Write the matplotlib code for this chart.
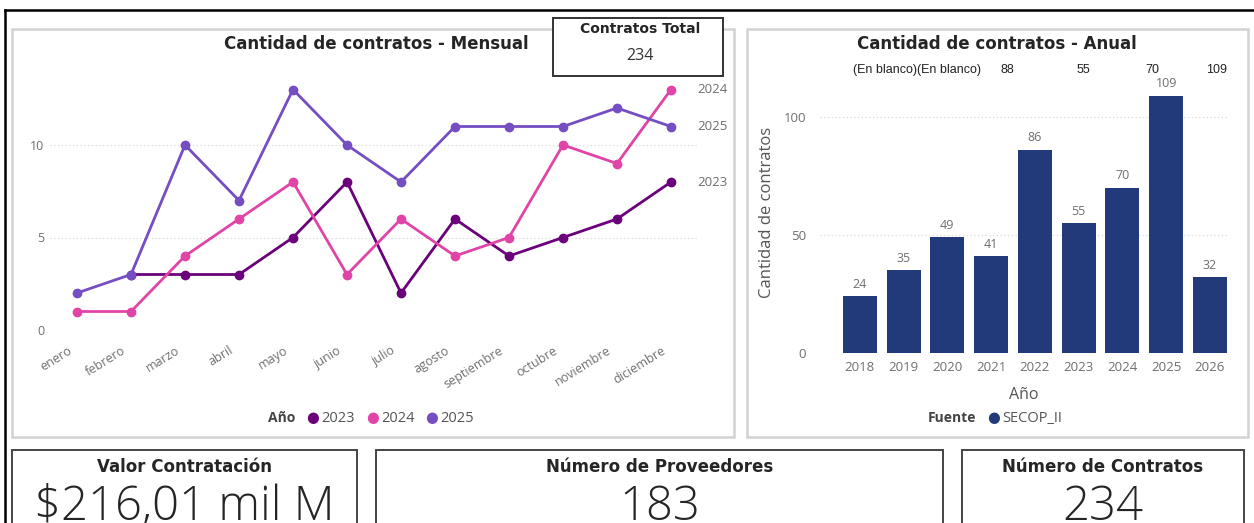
import matplotlib
matplotlib.use("Agg")
import matplotlib.pyplot as plt
import matplotlib.transforms as mtrans
from matplotlib.patches import Rectangle
import numpy as np

plt.rcParams['font.family'] = ['Open Sans', 'DejaVu Sans']

# ---- data ----
meses = ["enero", "febrero", "marzo", "abril", "mayo", "junio", "julio",
         "agosto", "septiembre", "octubre", "noviembre", "diciembre"]
c2023 = [np.nan, 3, 3, 3, 5, 8, 2, 6, 4, 5, 6, 8]
c2024 = [1, 1, 4, 6, 8, 3, 6, 4, 5, 10, 9, 13]
c2025 = [2, 3, 10, 7, 13, 10, 8, 11, 11, 11, 12, 11]
series_names = ["2023", "2024", "2025"]

anios = ["2018", "2019", "2020", "2021", "2022", "2023", "2024", "2025", "2026"]
anual = [24, 35, 49, 41, 86, 55, 70, 109, 32]
top_labels = ["(En blanco)(En blanco)", "88", "55", "70", "109"]

valor_contratacion = "$216,01 mil M"
num_proveedores = "183"
num_contratos = "234"
contratos_total = "234"

# ---- layout helpers (pixel coords, origin top-left) ----
W, H = 1254, 523
fig = plt.figure(figsize=(W / 100, H / 100), dpi=100)
fig.patch.set_facecolor("white")


def fx(x):
    return x / W


def fy(y):
    return 1 - y / H


def box(x0, y0, x1, y1, ec, lw, fc="none", z=0):
    fig.patches.append(Rectangle((fx(x0), fy(y1)), fx(x1) - fx(x0), fy(y0) - fy(y1),
                                 transform=fig.transFigure, fill=fc != "none",
                                 facecolor=fc, edgecolor=ec, lw=lw, zorder=z))


def txt(x, y, s, **kw):
    fig.text(fx(x), fy(y), s, **kw)


cols = ["#6B007B", "#E044A7", "#744EC2"]
GRAY = "#6f6f6f"
BOLD = dict(fontweight="bold", family="DejaVu Sans", color="#252525")

# outer frame
fig.add_artist(plt.Line2D([fx(5), fx(5)], [fy(10), 0], color="black", lw=1.8, transform=fig.transFigure))
fig.add_artist(plt.Line2D([fx(5), 1], [fy(10), fy(10)], color="black", lw=1.8, transform=fig.transFigure))

# panels
box(12, 29, 734, 437, "#d2d2d2", 1.8)
box(747, 29, 1248, 437, "#d2d2d2", 1.8)

# ---- line chart ----
ax = fig.add_axes([fx(50), fy(330), fx(698) - fx(50), fy(71) - fy(330)])
x = np.arange(len(meses))
for vals, c in zip([c2023, c2024, c2025], cols):
    ax.plot(x, vals, color=c, lw=2.0, marker="o", ms=6, clip_on=False, zorder=3)
ax.set_xlim(-0.5, 11.5)
ax.set_ylim(0, 14)
ax.set_yticks([0, 5, 10])
ax.grid(axis="y", color="#d8d8d8", ls=(0, (1, 2)), lw=0.9)
for s in ax.spines.values():
    s.set_visible(False)
ax.tick_params(axis="both", length=0, colors=GRAY, labelsize=9)
ax.tick_params(axis="y", pad=4)
ax.set_xticks(x)
ax.set_xticklabels(meses, rotation=32, ha="right", rotation_mode="anchor")
ax.tick_params(axis="x", pad=10)
off = mtrans.ScaledTranslation(-10 / 100, 0, fig.dpi_scale_trans)
for lab in ax.get_xticklabels():
    lab.set_transform(lab.get_transform() + off)

# series end labels
for vals, name in zip([c2023, c2024, c2025], series_names):
    ax.annotate(name, (11, vals[-1]), xytext=(19, 0), textcoords="offset points",
                va="center", ha="left", color=GRAY, fontsize=9.5)

txt(376, 44, "Cantidad de contratos - Mensual", ha="center", va="center",
    fontsize=12, **BOLD)

# legend
txt(282, 418, "Año", ha="center", va="center", fontsize=10, fontweight="bold", color="#444444")
for name, c, xd in zip(series_names, cols, [313, 373, 432]):
    txt(xd, 418, "●", ha="center", va="center", fontsize=10.5, color=c, family="DejaVu Sans")
    txt(xd + 8, 418, name, ha="left", va="center", fontsize=10.5, color="#555555")

# Contratos Total card
box(553, 18, 723, 76, "#333333", 1.4, fc="white", z=5)
txt(640, 29, "Contratos Total", ha="center", va="center", fontsize=10, zorder=6, **BOLD)
txt(640, 56, contratos_total, ha="center", va="center", fontsize=11.5, color="#333333", zorder=6)

# ---- bar chart ----
ax2 = fig.add_axes([fx(820), fy(353), fx(1227) - fx(820), fy(58) - fy(353)])
xb = np.arange(len(anios))
bars = ax2.bar(xb, anual, width=0.78, color="#22397A", zorder=3)
ax2.set_xlim(-0.91, 8.39)
ax2.set_ylim(0, 125)
ax2.set_yticks([0, 50, 100])
ax2.set_xticks(xb)
ax2.set_xticklabels(anios)
ax2.grid(axis="y", color="#d8d8d8", ls=(0, (1, 2)), lw=0.9)
for s in ax2.spines.values():
    s.set_visible(False)
ax2.tick_params(axis="both", length=0, colors=GRAY, labelsize=9.5)
ax2.tick_params(axis="y", pad=10)
ax2.tick_params(axis="x", pad=6)
for b, v in zip(bars, anual):
    ax2.annotate(str(v), (b.get_x() + b.get_width() / 2, v), xytext=(0, 4),
                 textcoords="offset points", ha="center", va="bottom",
                 color=GRAY, fontsize=9)
ax2.set_xlabel("Año", fontsize=11.5, color="#555555", labelpad=9)
fig.text(fx(767), fy(212), "Cantidad de contratos", rotation=90, ha="center", va="center",
         fontsize=12, color="#555555")

txt(997, 44, "Cantidad de contratos - Anual", ha="center", va="center",
    fontsize=12, **BOLD)
for lab, xp in zip(top_labels, [917, 1007, 1083, 1152, 1217]):
    txt(xp, 70, lab, ha="center", va="center", fontsize=9, color="#222222",
        family="Liberation Sans")

txt(952, 418, "Fuente", ha="center", va="center", fontsize=10, fontweight="bold", color="#444444")
txt(994, 418, "●", ha="center", va="center", fontsize=10.5, color="#22397A", family="DejaVu Sans")
txt(1002, 418, "SECOP_II", ha="left", va="center", fontsize=10.5, color="#555555")

# ---- KPI cards ----
cards = [(12, 357, "Valor Contratación", valor_contratacion),
         (376, 943, "Número de Proveedores", num_proveedores),
         (962, 1244, "Número de Contratos", num_contratos)]
for x0, x1, title, val in cards:
    box(x0, 450, x1, 540, "#444444", 1.4)
    cx = (x0 + x1) / 2
    txt(cx, 467, title, ha="center", va="center", fontsize=12, **BOLD)
    txt(cx, 520, val, ha="center", va="baseline", fontsize=34, color="#252525",
        fontweight="light")

fig.savefig("out.png", dpi=100, facecolor="white")
